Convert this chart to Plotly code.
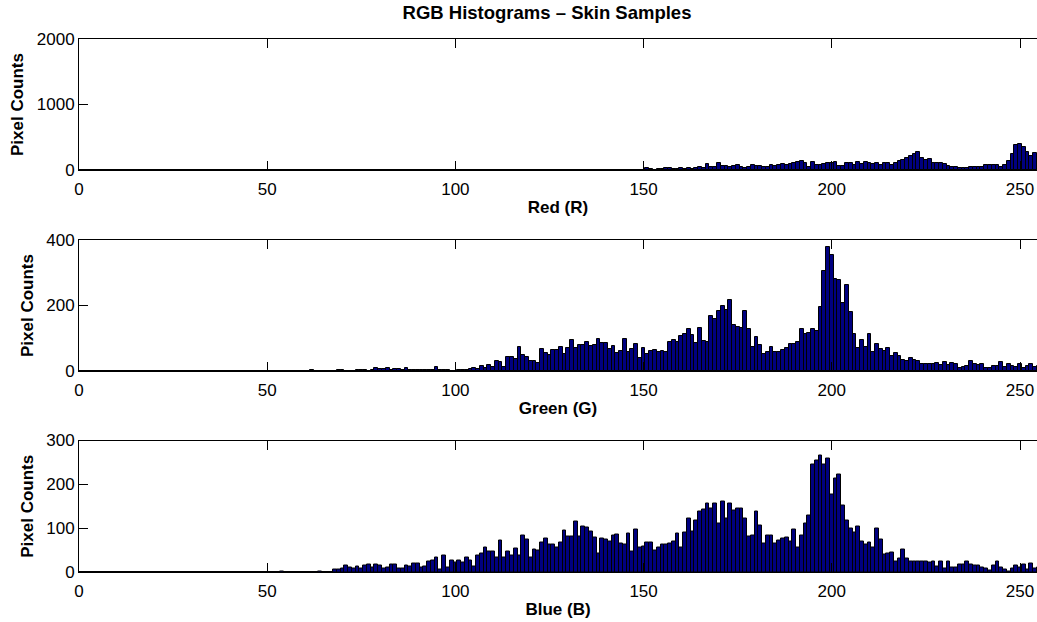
import plotly.graph_objects as go

# ---------------- data (pixel counts per intensity level 0..255) ----------------
levels = list(range(256))

red_counts = (
    [0] * 146
    + [5, 0, 3, 0]
    + [0, 28, 15, 5, 8, 15, 30, 25, 18, 22,
       30, 22, 25, 18, 28, 46, 30, 87, 51, 40,
       100, 66, 66, 50, 55, 71, 40, 35, 45, 71,
       60, 56, 45, 50, 76, 56, 76, 92, 76, 97,
       112, 127]
    + [132, 107, 51, 117, 76, 81, 97, 107,
       112, 117, 61, 56, 102, 102, 81, 117, 87, 122,
       112, 97, 102, 76, 107, 102, 81, 102, 137, 148,
       178, 219, 239, 275, 183, 148, 168, 112, 112, 107,
       87, 56, 46, 46, 36, 36, 36, 51, 46, 41,
       51, 81, 81, 81, 81, 46, 81, 140, 244, 377,
       392, 346, 275, 214, 254, 240]
)

green_counts = (
    [0] * 59
    + [0, 0, 0, 2, 0, 0, 0, 0, 1, 0,
       2, 2, 0, 1, 1, 4, 4, 3, 0, 2,
       8, 5, 6, 8, 3, 5, 5, 3, 8, 2,
       3, 2, 3, 2, 3, 2, 13, 4, 2, 4,
       1, 1, 3, 4, 4, 5, 8, 5, 15, 8,
       18, 13, 32, 26, 12, 42, 44, 36, 72, 49,
       42]
    + [32, 31, 25, 68, 54, 49, 65, 65, 72, 52,
       69, 96, 71, 80, 79, 89, 76, 79, 99, 84,
       84, 67, 75, 55, 62, 98, 59, 66, 82, 40,
       69, 52, 60, 63, 57, 60, 57, 89, 94, 89,
       108, 112, 127, 111, 85, 130, 92, 88, 168, 158,
       183, 198, 186, 216, 140, 134, 132, 183, 127, 73,
       105, 79, 53, 57]
    + [72, 57, 57, 64, 69, 82, 82, 88, 128, 113,
       115, 127, 123, 195, 305, 378, 354, 281, 278, 207,
       263, 179, 112, 69, 94, 73, 113, 58, 81, 66,
       61, 71, 45, 55, 47, 34, 32, 39, 33, 32,
       22, 20, 20, 20, 23, 18, 28, 18, 25, 20,
       10, 12, 16, 31, 20, 18, 22, 10, 8, 14,
       14, 27, 12, 20]
    + [15, 12, 20, 10, 14, 22, 12, 15]
)

blue_counts = (
    [0] * 54 + [2] + [0] * 9 + [1] + [0] * 3
    + [5, 5, 8, 14, 10, 8, 12, 8, 14, 16,
       11, 18, 14, 7, 11, 16, 18, 7, 7, 14,
       12, 19, 19, 11, 12, 23, 26, 32, 5, 37,
       11, 27, 21, 26, 21, 32, 27, 13, 38, 43,
       56, 46, 47, 34, 73, 34, 47, 37, 54, 37,
       84, 75]
    + [34, 52, 49, 68, 77, 62, 63, 57, 68, 95,
       82, 82, 116, 82, 103, 102, 93, 78, 43, 77,
       75, 70, 84, 86, 65, 62, 88, 47, 98, 56,
       59, 68, 68, 50, 57, 63, 62, 65, 70, 88,
       56, 90, 121, 93, 118, 138, 143, 157, 144, 157,
       110, 160, 123, 157, 141, 145, 145, 122, 81, 84,
       139, 106, 64, 84]
    + [84, 65, 71, 77, 78, 69, 97, 56, 84, 110,
       128, 245, 255, 265, 246, 259, 176, 214, 223, 151,
       118, 100, 89, 103, 69, 62, 67, 56, 100, 75,
       40, 43, 45, 25, 30, 52, 31, 25, 24, 24,
       25, 24, 22, 25, 13, 25, 8, 25, 11, 11,
       18, 17, 23, 16, 14, 14, 10, 8, 4, 14,
       24, 11, 5, 2]
    + [8, 15, 10, 18, 6, 20, 8, 10]
)

channels = [
    ("Red (R)", red_counts, [0, 2000], [0, 1000, 2000]),
    ("Green (G)", green_counts, [0, 400], [0, 200, 400]),
    ("Blue (B)", blue_counts, [0, 300], [0, 100, 200, 300]),
]
x_ticks = [0, 50, 100, 150, 200, 250]
chart_title = "RGB Histograms – Skin Samples"
y_title = "Pixel Counts"

# ---------------- figure ----------------
W, H = 1037, 622
FONT = "Liberation Sans, Arial, Helvetica, sans-serif"
BAR_FILL = "#000080"
LEFT = 79

# panel pixel extents (top, bottom)
panels_px = [(39, 170), (240, 371), (440.5, 572)]

fig = go.Figure()
layout = dict(
    template="none",
    width=W, height=H,
    margin=dict(l=LEFT, r=0, t=0, b=0, pad=0),
    paper_bgcolor="white", plot_bgcolor="white",
    showlegend=False, bargap=0,
    font=dict(family=FONT, size=17, color="black"),
)

for i, (label, counts, yr, yt) in enumerate(channels):
    n = "" if i == 0 else str(i + 1)
    fig.add_trace(go.Bar(
        x=levels, y=counts, width=1,
        marker=dict(color=BAR_FILL, line=dict(color="black", width=1)),
        xaxis="x" + n, yaxis="y" + n, hoverinfo="x+y",
    ))
    top, bot = panels_px[i]
    layout["xaxis" + n] = dict(
        domain=[0, 1], anchor="y" + n, automargin=False,
        range=[0, (W - LEFT) / 3.764],
        tickvals=x_ticks, ticks="inside", ticklen=9, tickwidth=1,
        tickcolor="black", showline=True, linecolor="black", linewidth=1,
        mirror="ticks", showgrid=False, zeroline=False,
        tickfont=dict(size=17, family=FONT, color="black"),
        title=dict(text=label, standoff=2,
                   font=dict(size=17, family=FONT, color="black", weight="bold")),
        ticklabelstandoff=4,
    )
    layout["yaxis" + n] = dict(
        domain=[1 - bot / H, 1 - top / H], anchor="x" + n, automargin=False,
        range=yr, tickvals=yt, ticks="inside", ticklen=9, tickwidth=1,
        tickcolor="black", showline=True, linecolor="black", linewidth=1,
        mirror=False, showgrid=False,
        zeroline=True, zerolinecolor="black", zerolinewidth=2,
        tickfont=dict(size=17, family=FONT, color="black"),
        title=dict(text=y_title, standoff=8,
                   font=dict(size=17, family=FONT, color="black", weight="bold")),
    )

layout["title"] = dict(
    text=chart_title, x=547 / W, xanchor="center", xref="container",
    y=1 - 13 / H, yanchor="middle", yref="container",
    font=dict(size=18.5, family=FONT, color="black", weight="bold"),
)

fig.update_layout(**layout)
fig.write_html("out.html")
